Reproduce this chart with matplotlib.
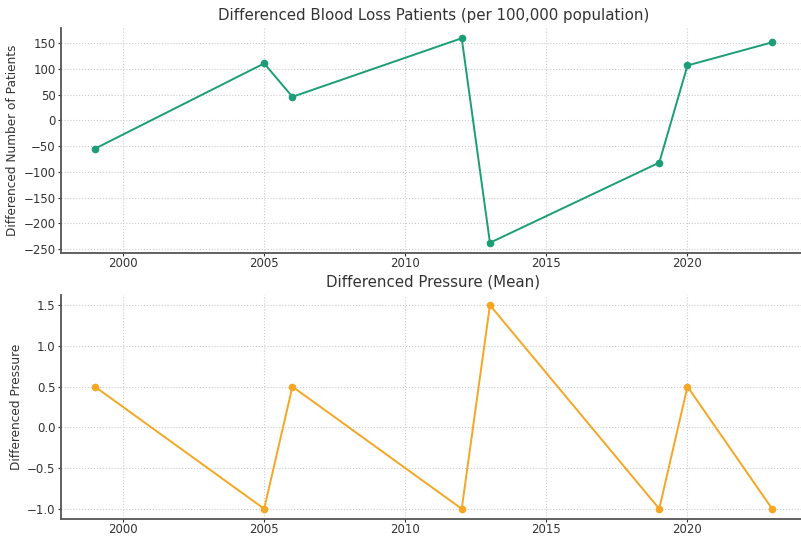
import matplotlib.pyplot as plt

# data
years = [1999, 2005, 2006, 2012, 2013, 2019, 2020, 2023]
blood_loss_diff = [-55, 111, 46, 160, -238, -82, 107, 152]
pressure_diff = [0.5, -1.0, 0.5, -1.0, 1.5, -1.0, 0.5, -1.0]

fig = plt.figure(figsize=(8.01, 5.36), dpi=100)
ax1 = fig.add_axes([61 / 801, 283 / 536, 745 / 801, 225 / 536])
ax2 = fig.add_axes([61 / 801, 17 / 536, 745 / 801, 224 / 536])


def style_axis(ax):
    ax.grid(True, linestyle=':', color='#cccccc', linewidth=0.8)
    for side in ['top', 'right']:
        ax.spines[side].set_visible(False)
    for side in ['left', 'bottom']:
        ax.spines[side].set_color('#555555')
        ax.spines[side].set_linewidth(1.3)
    ax.tick_params(colors='#333333', labelsize=8.5, length=2, width=0.8, pad=2)
    ax.tick_params(axis='x', pad=1)


ax1.plot(years, blood_loss_diff, marker='o', markersize=4.5, color='#1b9e77', linewidth=1.4)
ax1.set_title('Differenced Blood Loss Patients (per 100,000 population)', fontsize=10.8, color='#333333')
ax1.set_ylabel('Differenced Number of Patients', fontsize=8.7, color='#333333', labelpad=3)
style_axis(ax1)

ax2.plot(years, pressure_diff, marker='o', markersize=4.5, color='#f5a623', linewidth=1.4)
ax2.set_title('Differenced Pressure (Mean)', fontsize=10.8, color='#333333')
ax2.set_ylabel('Differenced Pressure', fontsize=8.7, color='#333333', labelpad=3)
style_axis(ax2)

fig.savefig('out.png', dpi=100)
